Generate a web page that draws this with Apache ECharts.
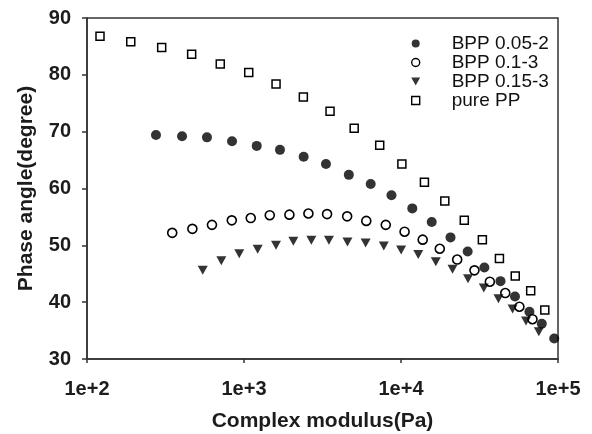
<!DOCTYPE html>
<html>
<head>
<meta charset="utf-8">
<script src="https://cdn.jsdelivr.net/npm/echarts@6/dist/echarts.min.js"></script>
<style>
    html, body { margin: 0; padding: 0; background: #fff; }
    #chart { width: 592px; height: 434px; }
</style>
</head>
<body>
<div id="chart"></div>
<script>
// complex modulus (Pa) and phase angle (degree)
var bpp005Modulus = [275, 403, 581, 839, 1205, 1695, 2399, 3327, 4653, 6412, 8697, 11800, 15690, 20670, 26590, 33970, 43020, 53210, 65750, 78860, 94620];
var bpp005Angle = [69.4, 69.2, 69.0, 68.3, 67.5, 66.8, 65.6, 64.3, 62.4, 60.8, 58.8, 56.5, 54.1, 51.4, 48.9, 46.1, 43.7, 41.0, 38.3, 36.2, 33.6];

var bpp01Modulus = [349, 469, 625, 836, 1104, 1459, 1946, 2572, 3382, 4540, 6010, 8000, 10540, 13750, 17660, 22800, 29370, 36800, 46150, 56760, 68780];
var bpp01Angle = [52.2, 52.9, 53.6, 54.4, 54.8, 55.3, 55.4, 55.6, 55.5, 55.1, 54.3, 53.6, 52.4, 51.0, 49.4, 47.5, 45.6, 43.6, 41.6, 39.2, 37.0];

var bpp015Modulus = [546, 717, 933, 1222, 1599, 2062, 2685, 3475, 4560, 5953, 7770, 10020, 12880, 16660, 21290, 26720, 33680, 41760, 51370, 62550, 75500];
var bpp015Angle = [45.6, 47.3, 48.5, 49.3, 50.0, 50.7, 50.9, 50.9, 50.6, 50.4, 49.9, 49.2, 48.4, 47.1, 45.8, 44.1, 42.5, 40.6, 38.8, 36.7, 34.8];

var ppModulus = [121, 190, 299, 464, 706, 1072, 1600, 2388, 3533, 5033, 7318, 10130, 14100, 19010, 25300, 32980, 42360, 53420, 66990, 82400];
var ppAngle = [86.8, 85.8, 84.8, 83.6, 81.9, 80.4, 78.4, 76.1, 73.6, 70.6, 67.6, 64.3, 61.1, 57.8, 54.4, 51.0, 47.7, 44.6, 42.0, 38.6];

var seriesNames = ['BPP 0.05-2', 'BPP 0.1-3', 'BPP 0.15-3', 'pure PP'];

var font = 'Liberation Sans, Arial, sans-serif';
var ink = '#1c1c1c';
var squareIcon = 'path://M0,0L8,0L8,8L0,8Z';
var triangleIcon = 'path://M0,0L10,0L5,9Z';

function pairs(xs, ys) {
    return xs.map(function (x, i) { return [x, ys[i]]; });
}

var chart = echarts.init(document.getElementById('chart'));
chart.setOption({
    animation: false,
    grid: {
        left: 87,
        top: 18,
        right: 34,
        bottom: 75,
        // keep the plot box where it is, labels may sit outside
        outerBoundsMode: 'none',
        containLabel: false,
        show: true,
        borderColor: '#333',
        borderWidth: 1.5
    },
    legend: {
        orient: 'vertical',
        left: 406,
        top: 29,
        itemWidth: 62,
        itemHeight: 8,
        itemGap: 0,
        symbolKeepAspect: true,
        textStyle: {
            fontFamily: font,
            fontSize: 19,
            color: '#111',
            lineHeight: 18
        },
        data: [
            { name: seriesNames[0], icon: 'circle' },
            { name: seriesNames[1], icon: 'circle', itemStyle: { borderWidth: 1.4 } },
            { name: seriesNames[2], icon: triangleIcon },
            { name: seriesNames[3], icon: squareIcon, itemStyle: { borderWidth: 1.4 } }
        ]
    },
    xAxis: {
        type: 'log',
        logBase: 10,
        min: 100,
        max: 100000,
        name: 'Complex modulus(Pa)',
        nameLocation: 'middle',
        nameGap: 52,
        nameTextStyle: { fontFamily: font, fontSize: 21, fontWeight: 'bold', color: ink },
        splitLine: { show: false },
        minorTick: { show: false },
        axisLine: { lineStyle: { color: '#333', width: 1.5 } },
        axisTick: { inside: false, length: 4, lineStyle: { color: '#333', width: 1.5 } },
        axisLabel: {
            margin: 20,
            fontFamily: font,
            fontSize: 20,
            fontWeight: 'bold',
            color: ink,
            formatter: function (v) { return '1e+' + Math.round(Math.log10(v)); }
        }
    },
    yAxis: {
        type: 'value',
        min: 30,
        max: 90,
        interval: 10,
        name: 'Phase angle(degree)',
        nameLocation: 'middle',
        nameGap: 50,
        nameTextStyle: { fontFamily: font, fontSize: 21, fontWeight: 'bold', color: ink },
        splitLine: { show: false },
        axisLine: { show: true, lineStyle: { color: '#333', width: 1.5 } },
        axisTick: { show: true, inside: false, length: 5, lineStyle: { color: '#333', width: 1.5 } },
        axisLabel: {
            margin: 16,
            fontFamily: font,
            fontSize: 20,
            fontWeight: 'bold',
            color: ink
        }
    },
    series: [
        {
            name: seriesNames[0],
            type: 'scatter',
            symbol: 'circle',
            symbolSize: 10,
            itemStyle: { color: '#000' },
            data: pairs(bpp005Modulus, bpp005Angle)
        },
        {
            name: seriesNames[1],
            type: 'scatter',
            symbol: 'circle',
            symbolSize: 9,
            itemStyle: { color: '#fff', borderColor: '#000', borderWidth: 1.6, opacity: 1 },
            data: pairs(bpp01Modulus, bpp01Angle)
        },
        {
            name: seriesNames[2],
            type: 'scatter',
            symbol: triangleIcon,
            symbolSize: [10, 9],
            itemStyle: { color: '#000' },
            data: pairs(bpp015Modulus, bpp015Angle)
        },
        {
            name: seriesNames[3],
            type: 'scatter',
            symbol: squareIcon,
            symbolSize: 8,
            itemStyle: { color: '#fff', borderColor: '#000', borderWidth: 1.5, opacity: 1 },
            data: pairs(ppModulus, ppAngle)
        }
    ]
});
</script>
</body>
</html>
